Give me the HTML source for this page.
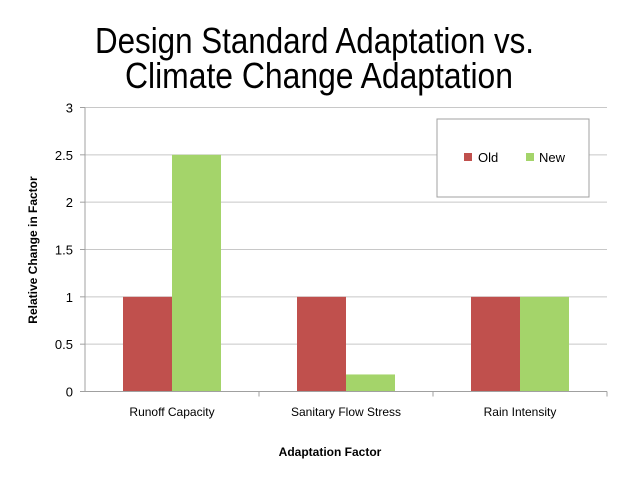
<!DOCTYPE html>
<html><head><meta charset="utf-8"><style>
body{margin:0;background:#fff;}
svg text{font-family:"Liberation Sans",sans-serif;}
</style></head><body>
<svg id="chart" width="640" height="480">
<text x="95" y="53" font-size="36" textLength="439" lengthAdjust="spacingAndGlyphs" fill="#000">Design Standard Adaptation vs.</text>
<text x="125" y="88" font-size="36" textLength="388" lengthAdjust="spacingAndGlyphs" fill="#000">Climate Change Adaptation</text>
<g id="grid"></g><g id="bars"></g><g id="axes"></g>
<text transform="translate(37,250) rotate(-90)" text-anchor="middle" font-size="12" font-weight="bold">Relative Change in Factor</text>
<text x="330" y="456" text-anchor="middle" font-size="12" font-weight="bold">Adaptation Factor</text>
<g>
<rect x="437" y="119" width="152" height="78" fill="#fff" stroke="#a0a0a0"/>
<rect x="464" y="153" width="8" height="8" fill="#c0504d"/>
<text x="478" y="162" font-size="13">Old</text>
<rect x="526" y="153" width="8" height="8" fill="#a4d46a"/>
<text x="539" y="162" font-size="13">New</text>
</g>
</svg>
<script>
const categories=["Runoff Capacity","Sanitary Flow Stress","Rain Intensity"];
const oldValues=[1,1,1];
const newValues=[2.5,0.18,1];
const yTicks=[0,0.5,1,1.5,2,2.5,3];
const NS="http://www.w3.org/2000/svg";
const x0=85,x1=607,y0=391.5,yTop=107.5,yMax=3;
const y=v=>y0-(v/yMax)*(y0-yTop);
const cw=(x1-x0)/categories.length;
const bw=49;
function mk(t,a,p){const e=document.createElementNS(NS,t);for(const k in a)e.setAttribute(k,a[k]);p.appendChild(e);return e;}
const grid=document.getElementById('grid'),bars=document.getElementById('bars'),axes=document.getElementById('axes');
yTicks.forEach(v=>{
  if(v>0){const l=mk('line',{x1:x0,x2:x1,y1:y(v),y2:y(v),stroke:'#c8c8c8'},grid);
  
  }
  const tk=mk('line',{x1:x0-5,x2:x0,y1:y(v),y2:y(v),stroke:'#a0a0a0'},axes);
  
  
  const t=mk('text',{x:x0-12,y:y(v)+5,'text-anchor':'end','font-size':'13'},axes);
  t.textContent=v;
  
  
});
categories.forEach((c,i)=>{
  const cx=x0+cw*(i+0.5);
  const r=mk('rect',{x:cx-bw,y:y(oldValues[i]),width:bw,height:y0-y(oldValues[i]),fill:'#c0504d'},bars);
  
  
  const g=mk('rect',{x:cx,y:y(newValues[i]),width:bw,height:y0-y(newValues[i]),fill:'#a4d46a'},bars);
  
  
  const t=mk('text',{x:cx,y:416,'text-anchor':'middle','font-size':'12'},axes);
  t.textContent=c;
  
  
  const tk=mk('line',{x1:x0+cw*(i+1),x2:x0+cw*(i+1),y1:y0,y2:y0+5,stroke:'#a0a0a0'},axes);
  
  
});
const ya=mk('line',{x1:x0,x2:x0,y1:yTop,y2:y0,stroke:'#a0a0a0'},axes);


const xa=mk('line',{x1:x0,x2:x1,y1:y0,y2:y0,stroke:'#a0a0a0'},axes);


</script>
</body></html>
